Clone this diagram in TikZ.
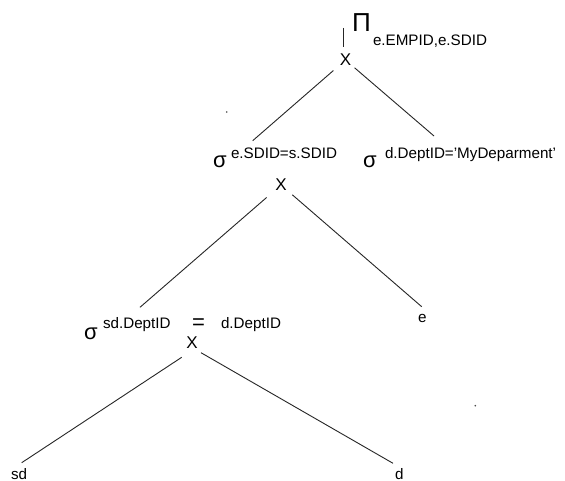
\documentclass[tikz,border=0pt]{standalone}
\usepackage{fontspec}
\setmainfont{Liberation Sans}
\begin{document}
\begin{tikzpicture}[x=1bp,y=-1bp,
  lbl/.style={inner sep=0pt, outer sep=0pt, font=\fontsize{15.2bp}{16bp}\selectfont},
  sig/.style={inner sep=0pt, outer sep=0pt, font=\fontsize{22bp}{24bp}\selectfont},
  xop/.style={inner sep=0pt, outer sep=0pt, font=\fontsize{17bp}{18bp}\selectfont},
  pisym/.style={inner sep=0pt, outer sep=0pt, font=\fontsize{26bp}{28bp}\selectfont},
  eqsym/.style={inner sep=0pt, outer sep=0pt, font=\fontsize{22bp}{24bp}\selectfont},
  edge/.style={draw=black!85, line width=0.9bp}]
\useasboundingbox[fill=white] (0,0) rectangle (565,481);

% projection
\draw[edge] (343,28) -- (343,47);
\node[pisym, anchor=base] (pi) at (361.5,31.7) {Π};
\node[lbl, anchor=base west] (projsub) at (373,45.5) {e.EMPID,e.SDID};

% operators
\node[xop] (x1) at (345.5,60) {X};
\node[xop] (x2) at (281,185) {X};
\node[xop] (x3) at (192,343) {X};

% selections
\node[sig, anchor=base west] (s1) at (213,168) {σ};
\node[lbl, anchor=base west] (s1sup) at (231,158.5) {e.SDID=s.SDID};
\node[sig, anchor=base west] (s2) at (363,168) {σ};
\node[lbl, anchor=base west] (s2sup) at (385,158.5) {d.DeptID='MyDeparment'};
\node[sig, anchor=base west] (s3) at (84,339) {σ};
\node[lbl, anchor=base west] (s3sup) at (103,328.5) {sd.DeptID};
\node[eqsym] (eq) at (198.5,324) {=};
\node[lbl, anchor=base west] (s3rhs) at (221,328.5) {d.DeptID};

% relations
\node[lbl, anchor=base west] (re) at (418,322) {e};
\node[lbl, anchor=base west] (rsd) at (11,479) {sd};
\node[lbl, anchor=base west] (rd) at (395,479) {d};

% connector ends
\coordinate (e1) at (252.7,140.7);
\coordinate (e2) at (434,136);
\coordinate (e3) at (140,307.3);
\coordinate (e4) at (421.7,306.7);
\coordinate (e5) at (21.7,462.7);
\coordinate (e6) at (393,463.3);

\draw[edge, shorten <=16bp] (x1.center) -- (e1);
\draw[edge, shorten <=12bp] (x1.center) -- (e2);
\draw[edge, shorten <=19bp] (x2.center) -- (e3);
\draw[edge, shorten <=15bp] (x2.center) -- (e4);
\draw[edge] ([shift={(-10.3,14.3)}]x3.center) -- (e5);
\draw[edge] ([shift={(9,9.7)}]x3.center) -- (e6);

% stray dots
\fill[black!70] (226.7,112) circle (0.9bp);
\fill[black!70] (475.3,405.7) circle (0.9bp);
\end{tikzpicture}
\end{document}
